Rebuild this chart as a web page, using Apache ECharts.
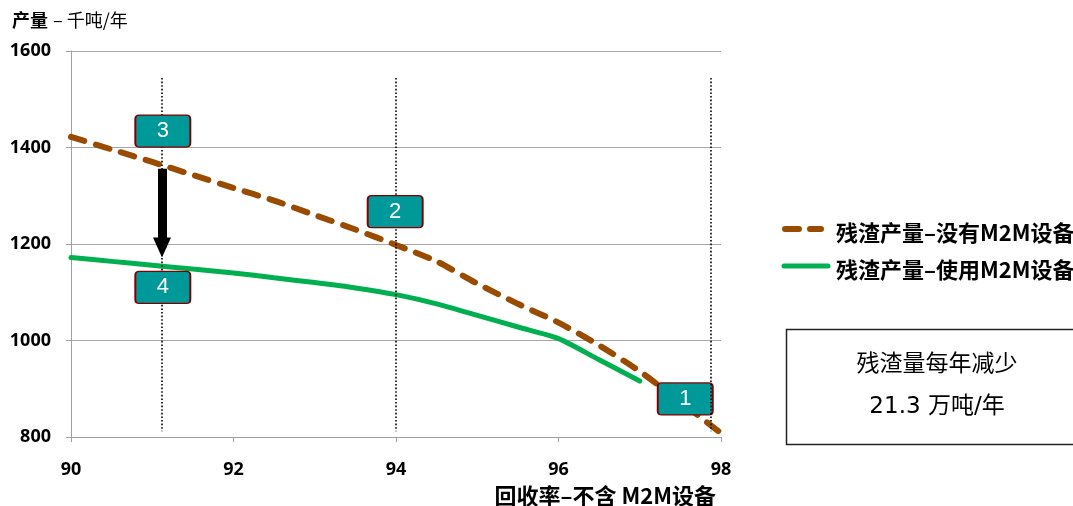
<!DOCTYPE html>
<html>
<head>
<meta charset="utf-8">
<script src="https://cdn.jsdelivr.net/npm/echarts@6/dist/echarts.min.js"></script>
<style>
  html, body { margin: 0; padding: 0; background: #ffffff; }
  #chart { width: 1073px; height: 506px; }
</style>
</head>
<body>
<div id="chart"></div>
<script>
// Recovery rate (%) along the x axis
const recoveryRate = [90, 90.5, 91, 91.5, 92, 92.5, 93, 93.5, 94, 94.5, 95, 95.5, 96, 96.5, 97, 97.5, 98];
// Slag output, thousand tonnes per year, without M2M equipment
const slagWithoutM2M = [1422, 1396, 1370, 1343, 1316, 1290, 1260, 1230, 1198, 1164, 1118, 1076, 1037, 990, 936, 873, 808];
// Slag output with M2M equipment (curve stops at 97 %)
const slagWithM2M = [1172, 1164, 1156, 1148, 1140, 1130, 1120, 1109, 1095, 1076, 1052, 1028, 1004, 960, 916];
// Axis ranges and tick steps
const xRange = [90, 98], xStep = 2;
const yRange = [800, 1600], yStep = 200;

const seriesWithout = '残渣产量–没有M2M设备';
const seriesWith = '残渣产量–使用M2M设备';

// Vertical guide lines (recovery rate) and numbered callouts
const guideRates = [91.12, 94.0, 97.87];
const guideSpan = [812, 1544];
const callouts = [
  { name: '1', coord: [97.56, 879] },
  { name: '2', coord: [93.99, 1267] },
  { name: '3', coord: [91.13, 1434] },
  { name: '4', coord: [91.13, 1110] }
];
// Reduction arrow, from the upper curve down to the lower one
const arrowRate = 91.12;
const arrowSpan = [1356, 1193];

const CJK = '"Noto Sans CJK SC", "Noto Sans", sans-serif';
const NUM = '"Noto Sans", "Liberation Sans", sans-serif';
const BROWN = '#994C00';
const GREEN = '#00B050';
const AXIS = '#A0A0A0';

const toPairs = (xs, ys) => ys.map((v, i) => [xs[i], v]);

// rounded box with a small corner radius, stretched to symbolSize
const BOX_PATH = 'path://M4,0H51Q55,0 55,4V28Q55,32 51,32H4Q0,32 0,28V4Q0,0 4,0Z';

const calloutStyle = {
  symbol: BOX_PATH,
  symbolSize: [55, 32],
  symbolKeepAspect: false,
  itemStyle: { color: '#009999', borderColor: '#800000', borderWidth: 1.5 },
  label: {
    show: true, position: 'inside', formatter: '{b}',
    color: '#ffffff', fontSize: 22, fontFamily: '"Liberation Sans", Arial, sans-serif'
  }
};

const chart = echarts.init(document.getElementById('chart'), null, { renderer: 'canvas' });

chart.setOption({
  animation: false,
  backgroundColor: '#ffffff',
  grid: { left: 71, right: 352, top: 51, bottom: 69, containLabel: false },
  title: {
    left: 12, top: 11, padding: 0,
    text: '{b|产量} {n|– 千吨/年}',
    textStyle: {
      rich: {
        b: { fontFamily: CJK, fontWeight: 'bold', fontSize: 18, color: '#000' },
        n: { fontFamily: CJK, fontWeight: 'normal', fontSize: 18, color: '#000' }
      }
    }
  },
  xAxis: {
    type: 'value',
    min: xRange[0], max: xRange[1], interval: xStep,
    axisLine: { show: true, lineStyle: { color: AXIS, width: 1 } },
    axisTick: { show: true, length: 5, lineStyle: { color: AXIS } },
    splitLine: { show: false },
    axisLabel: {
      margin: 24, color: '#000', fontFamily: NUM, fontWeight: 'bold', fontSize: 18,
      formatter: v => String(v)
    }
  },
  yAxis: {
    type: 'value',
    min: yRange[0], max: yRange[1], interval: yStep,
    axisLine: { show: true, lineStyle: { color: AXIS, width: 1 } },
    axisTick: { show: true, length: 5, lineStyle: { color: AXIS } },
    splitLine: { show: true, lineStyle: { color: '#A6A6A6', width: 1 } },
    axisLabel: {
      margin: 20, color: '#000', fontFamily: NUM, fontWeight: 'bold', fontSize: 18,
      formatter: v => String(v)
    }
  },
  series: [
    {
      name: seriesWithout,
      type: 'line',
      data: toPairs(recoveryRate, slagWithoutM2M),
      smooth: 0.25,
      showSymbol: false,
      symbol: 'none',
      z: 2,
      lineStyle: { color: BROWN, width: 6, type: [14, 12], cap: 'round' },
      markLine: {
        silent: true,
        z: 4,
        symbol: ['none', 'none'],
        label: { show: false },
        lineStyle: { color: '#000', width: 1.6, type: [1.6, 2] },
        data: guideRates.map(r => [{ coord: [r, guideSpan[1]] }, { coord: [r, guideSpan[0]] }])
      },
      markPoint: Object.assign({ silent: true, z: 3, data: [callouts[0]] }, calloutStyle)
    },
    {
      name: seriesWith,
      type: 'line',
      data: toPairs(recoveryRate, slagWithM2M),
      smooth: 0.25,
      showSymbol: false,
      symbol: 'none',
      z: 2,
      lineStyle: { color: GREEN, width: 5, cap: 'round' },
      markLine: {
        silent: true,
        z: 7,
        symbol: ['none', 'triangle'],
        symbolSize: [18, 20],
        label: { show: false },
        lineStyle: { color: '#000', width: 9, type: 'solid' },
        itemStyle: { color: '#000' },
        data: [[{ coord: [arrowRate, arrowSpan[0]] }, { coord: [arrowRate, arrowSpan[1]] }]]
      },
      markPoint: Object.assign({ silent: true, z: 6, data: callouts.slice(1) }, calloutStyle)
    }
  ],
  graphic: [
    // legend
    { type: 'line', shape: { x1: 785, y1: 229, x2: 821, y2: 229 },
      style: { stroke: BROWN, lineWidth: 6, lineDash: [14, 11], lineCap: 'round' } },
    { type: 'text', x: 836, y: 233,
      style: { text: seriesWithout, fill: '#000', font: 'bold 22px ' + CJK, verticalAlign: 'middle' } },
    { type: 'line', shape: { x1: 784, y1: 266, x2: 828, y2: 266 },
      style: { stroke: GREEN, lineWidth: 5, lineCap: 'round' } },
    { type: 'text', x: 836, y: 270,
      style: { text: seriesWith, fill: '#000', font: 'bold 22px ' + CJK, verticalAlign: 'middle' } },
    // summary box
    { type: 'rect', shape: { x: 786.5, y: 329.5, width: 300, height: 115 },
      style: { fill: '#ffffff', stroke: '#222', lineWidth: 1.5 } },
    { type: 'text', x: 937, y: 362,
      style: { text: '残渣量每年减少', fill: '#000', font: '23px ' + CJK, align: 'center', verticalAlign: 'middle' } },
    { type: 'text', x: 937, y: 407,
      style: { text: '21.3 万吨/年', fill: '#000', font: '23px "DejaVu Sans", ' + CJK, align: 'center', verticalAlign: 'middle' } },
    // x axis title
    { type: 'text', x: 716, y: 496,
      style: { text: '回收率–不含 M2M设备', fill: '#000', font: 'bold 22px ' + CJK, align: 'right', verticalAlign: 'middle' } }
  ]
});
</script>
</body>
</html>
